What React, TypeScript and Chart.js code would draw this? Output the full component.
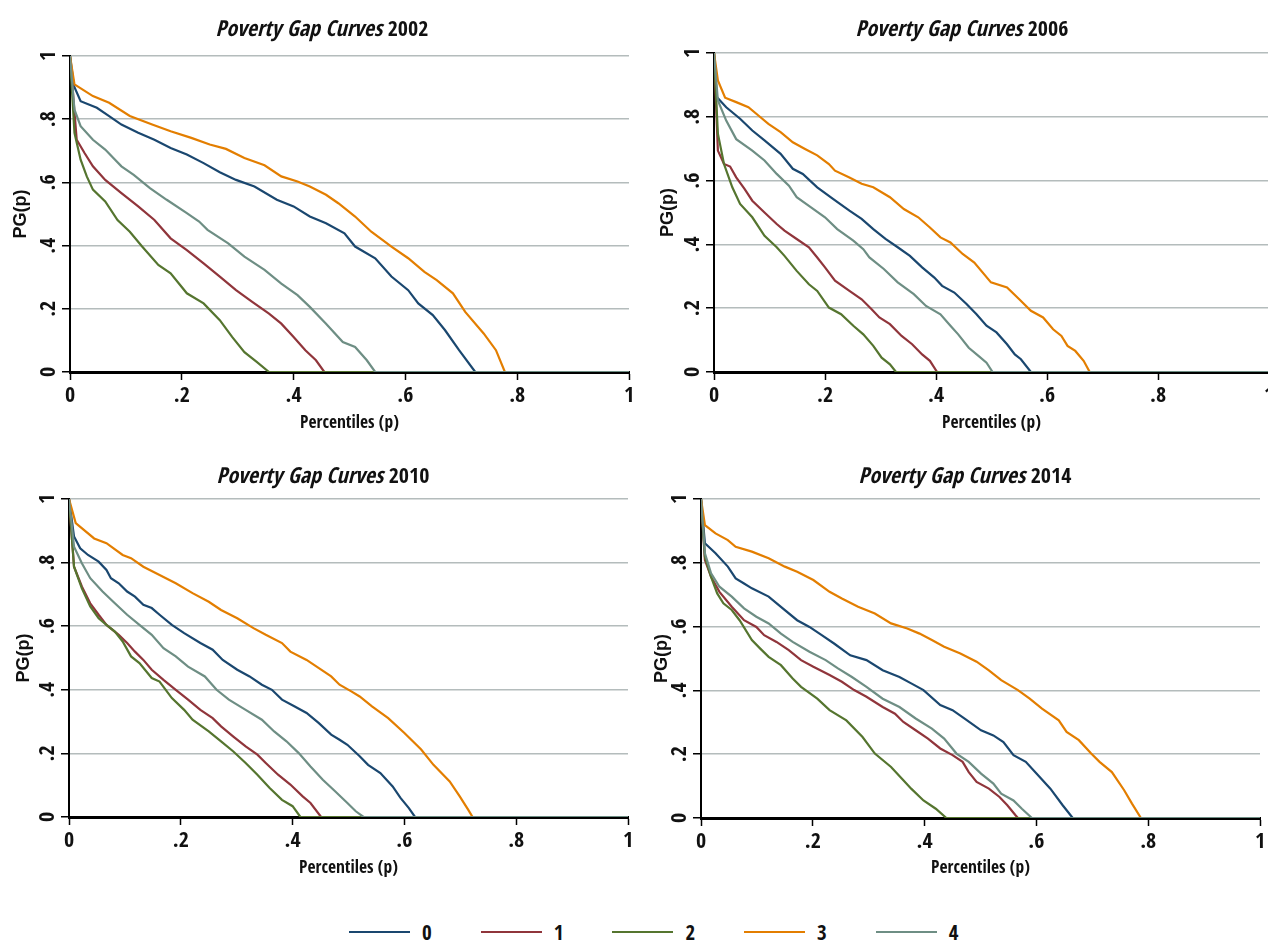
import React, { useEffect, useRef } from 'react';
import { Chart, registerables } from 'chart.js';

Chart.register(...registerables);

// ---------- data ----------
const GROUPS = ['0', '1', '2', '3', '4'];
const COLORS = ['#1a476f', '#90353b', '#55752f', '#e37e00', '#6e8e84'];
const X_TICKS = ['0', '.2', '.4', '.6', '.8', '1'];
const Y_TICKS = ['0', '.2', '.4', '.6', '.8', '1'];
const TITLE_TEXT = 'Poverty Gap Curves';
const X_TITLE = 'Percentiles (p)';
const Y_TITLE = 'PG(p)';

// 2002 : percentile p and PG(p) for groups 0..4
const P_2002 = [
  [0, .007, .019, .048, .07, .092, .122, .151, .18, .209, .239, .268, .297, .33, .37, .4, .429, .458, .491, .51, .546, .575, .605, .623, .649, .671, .696, .725, 1],
  [0, .012, .026, .041, .063, .092, .122, .151, .18, .209, .239, .268, .297, .326, .356, .378, .4, .421, .44, .455, 1],
  [0, .008, .019, .03, .041, .063, .085, .107, .129, .158, .18, .209, .239, .268, .29, .312, .334, .356, 1],
  [0, .008, .041, .07, .107, .147, .18, .217, .25, .279, .312, .348, .378, .407, .429, .458, .48, .51, .539, .575, .605, .634, .656, .685, .707, .74, .762, .778, 1],
  [0, .008, .019, .041, .063, .092, .114, .143, .173, .209, .231, .246, .283, .312, .348, .378, .407, .429, .458, .488, .51, .531, .546, 1],
];
const PG_2002 = [
  [1, .905, .857, .836, .81, .783, .757, .735, .709, .688, .661, .632, .608, .587, .545, .524, .492, .471, .439, .397, .36, .302, .259, .217, .18, .132, .069, 0, 0],
  [1, .735, .693, .651, .608, .566, .524, .481, .423, .386, .344, .302, .259, .222, .185, .153, .111, .069, .037, 0, 0],
  [1, .757, .672, .619, .577, .54, .481, .444, .397, .339, .312, .249, .217, .164, .111, .063, .032, 0, 0],
  [1, .91, .873, .852, .81, .783, .762, .741, .72, .706, .677, .654, .619, .603, .587, .561, .534, .492, .444, .397, .36, .317, .291, .249, .19, .122, .069, 0, 0],
  [1, .83, .778, .735, .704, .651, .624, .582, .545, .503, .476, .45, .407, .365, .323, .28, .243, .206, .153, .095, .079, .037, 0, 0],
];

// 2006
const P_2006 = [
  [0, .005, .022, .047, .069, .091, .12, .142, .16, .186, .215, .244, .266, .287, .309, .331, .353, .375, .397, .411, .433, .455, .473, .491, .509, .528, .542, .553, .571, 1],
  [0, .007, .018, .029, .04, .055, .069, .091, .113, .127, .149, .171, .186, .2, .218, .244, .266, .284, .298, .317, .338, .357, .375, .389, .402, 1],
  [0, .007, .018, .033, .047, .069, .091, .113, .127, .149, .171, .186, .207, .229, .251, .269, .287, .302, .317, .328, 1],
  [0, .007, .02, .04, .062, .08, .098, .12, .142, .164, .186, .207, .218, .244, .266, .287, .317, .342, .368, .389, .408, .426, .448, .469, .499, .528, .55, .571, .593, .611, .626, .637, .651, .666, .677, 1],
  [0, .007, .022, .04, .069, .091, .113, .135, .149, .171, .2, .222, .251, .269, .28, .306, .331, .36, .382, .408, .426, .44, .459, .477, .491, .502, 1],
];
const PG_2006 = [
  [1, .862, .83, .794, .757, .726, .684, .637, .621, .579, .542, .506, .48, .448, .417, .391, .364, .328, .296, .27, .249, .213, .181, .145, .124, .087, .055, .04, 0, 0],
  [1, .694, .652, .644, .61, .574, .537, .5, .464, .443, .417, .391, .359, .328, .286, .254, .228, .197, .171, .15, .113, .087, .055, .035, 0, 0],
  [1, .747, .652, .579, .527, .485, .427, .391, .364, .317, .275, .254, .202, .181, .145, .118, .082, .045, .024, 0, 0],
  [1, .914, .86, .846, .83, .804, .778, .752, .72, .699, .679, .652, .631, .61, .59, .579, .548, .511, .485, .453, .422, .406, .37, .343, .281, .265, .228, .192, .171, .134, .113, .082, .066, .035, 0, 0],
  [1, .851, .788, .73, .694, .663, .621, .584, .548, .521, .485, .448, .412, .385, .359, .323, .281, .244, .207, .181, .145, .118, .076, .05, .029, 0, 0],
];

// 2010
const P_2010 = [
  [0, .009, .02, .034, .053, .067, .075, .089, .104, .118, .133, .148, .162, .184, .206, .235, .257, .275, .301, .323, .345, .363, .381, .403, .425, .447, .469, .484, .498, .52, .535, .557, .579, .593, .608, .619, 1],
  [0, .009, .023, .038, .053, .067, .089, .104, .118, .133, .148, .169, .191, .213, .235, .257, .272, .294, .316, .337, .352, .374, .396, .418, .432, .451, 1],
  [0, .009, .023, .038, .053, .067, .082, .096, .111, .126, .148, .162, .184, .206, .221, .25, .272, .294, .316, .337, .359, .381, .4, .414, 1],
  [0, .012, .045, .067, .096, .111, .133, .162, .191, .221, .25, .272, .301, .33, .352, .381, .396, .425, .447, .469, .484, .505, .52, .542, .571, .6, .63, .652, .681, .699, .714, .722, 1],
  [0, .009, .023, .038, .06, .082, .104, .126, .148, .169, .191, .213, .243, .264, .286, .316, .345, .367, .389, .411, .432, .454, .476, .498, .513, .527, 1],
];
const PG_2010 = [
  [1, .882, .845, .824, .803, .777, .751, .735, .709, .693, .667, .657, .636, .604, .578, .547, .526, .494, .463, .442, .416, .4, .369, .348, .327, .295, .259, .243, .227, .191, .164, .138, .096, .06, .028, 0, 0],
  [1, .787, .725, .672, .636, .604, .573, .547, .52, .494, .463, .431, .4, .369, .337, .311, .285, .253, .222, .196, .17, .133, .102, .065, .044, 0, 0],
  [1, .787, .719, .662, .625, .604, .583, .552, .505, .484, .437, .426, .374, .337, .306, .269, .238, .206, .17, .133, .091, .054, .034, 0, 0],
  [1, .924, .876, .861, .824, .814, .787, .761, .735, .704, .677, .651, .625, .594, .573, .547, .52, .494, .468, .442, .416, .395, .379, .348, .311, .264, .212, .164, .112, .065, .023, 0, 0],
  [1, .85, .798, .751, .709, .672, .636, .604, .573, .531, .505, .473, .442, .4, .369, .337, .306, .269, .238, .201, .159, .117, .081, .044, .018, 0, 0],
];

// 2014
const P_2014 = [
  [0, .007, .026, .048, .062, .077, .091, .121, .143, .172, .194, .216, .238, .267, .296, .325, .355, .376, .398, .428, .45, .471, .501, .523, .541, .559, .581, .603, .625, .647, .665, 1],
  [0, .007, .018, .033, .055, .077, .099, .113, .135, .157, .179, .201, .23, .252, .274, .296, .325, .347, .362, .384, .406, .428, .45, .468, .479, .493, .515, .534, .548, .563, .567, 1],
  [0, .007, .018, .029, .04, .055, .069, .091, .106, .121, .143, .164, .179, .208, .23, .26, .289, .311, .34, .362, .376, .398, .42, .439, 1],
  [0, .007, .026, .048, .062, .091, .121, .15, .172, .201, .23, .252, .281, .311, .34, .369, .391, .413, .435, .464, .493, .515, .537, .567, .588, .61, .64, .654, .676, .698, .713, .735, .757, .771, .787, 1],
  [0, .007, .018, .033, .055, .077, .099, .121, .143, .164, .194, .223, .245, .27, .296, .325, .355, .384, .413, .435, .457, .479, .501, .523, .537, .559, .574, .592, 1],
];
const PG_2014 = [
  [1, .861, .83, .788, .751, .735, .72, .694, .662, .62, .599, .573, .547, .51, .495, .463, .442, .422, .401, .354, .338, .312, .275, .259, .238, .197, .176, .134, .092, .04, 0, 0],
  [1, .809, .756, .709, .662, .62, .599, .573, .552, .526, .495, .474, .448, .427, .401, .38, .348, .327, .301, .275, .249, .218, .197, .176, .144, .113, .092, .066, .04, .008, 0, 0],
  [1, .819, .756, .704, .673, .652, .62, .558, .531, .505, .479, .437, .411, .374, .338, .306, .254, .202, .16, .118, .092, .055, .029, 0, 0],
  [1, .918, .892, .871, .85, .835, .814, .788, .772, .746, .709, .688, .662, .641, .61, .594, .578, .558, .537, .516, .49, .463, .432, .401, .374, .343, .306, .27, .244, .202, .176, .144, .087, .045, 0, 0],
  [1, .83, .767, .725, .694, .657, .631, .61, .578, .552, .521, .495, .469, .442, .411, .374, .348, .312, .28, .249, .202, .176, .139, .108, .076, .055, .029, 0, 0],
];

// ---------- styling ----------
const FAM = '"Open Sans Condensed", "Roboto Condensed", "DejaVu Sans Condensed", sans-serif';
const FAM_WIDE = '"Liberation Sans", Arial, sans-serif';
const GRID_COLOR = '#b4bcbc';

type Spec = {
  year: string; yearBold: boolean; P: number[][]; PG: number[][];
  yTitleX: number; L: number; R: number; T: number; B: number;
  titleX: number; titleY: number; xTitleY: number;
};

const PANELS: Spec[] = [
  { year: '2002', yearBold: true, P: P_2002, PG: PG_2002, yTitleX: 21.5, L: 70, R: 629, T: 56, B: 372, titleX: 322, titleY: 30, xTitleY: 423 },
  { year: '2006', yearBold: false, P: P_2006, PG: PG_2006, yTitleX: 667.6, L: 714, R: 1269, T: 53, B: 372, titleX: 962, titleY: 30, xTitleY: 423 },
  { year: '2010', yearBold: true, P: P_2010, PG: PG_2010, yTitleX: 24, L: 69, R: 628, T: 499, B: 817, titleX: 323, titleY: 477, xTitleY: 868 },
  { year: '2014', yearBold: true, P: P_2014, PG: PG_2014, yTitleX: 661.6, L: 701, R: 1260, T: 499, B: 818, titleX: 965, titleY: 477, xTitleY: 868 },
];

function Panel({ spec }: { spec: Spec }) {
  const ref = useRef<HTMLCanvasElement | null>(null);
  const canvasLeft = Math.floor(spec.yTitleX - 22);
  const canvasTop = spec.T - 50;
  const canvasRight = spec.R + 12;
  const canvasBottom = spec.xTitleY + 20;
  const w = canvasRight - canvasLeft;
  const h = canvasBottom - canvasTop;

  useEffect(() => {
    const titlePlugin = {
      id: 'mixedTitle',
      afterDraw(chart: any) {
        const ctx = chart.ctx as CanvasRenderingContext2D;
        ctx.save();
        const f1 = `italic bold 22px ${FAM}`;
        const f2 = `${spec.yearBold ? 'bold ' : ''}22px ${FAM}`;
        const a = TITLE_TEXT + ' ';
        ctx.font = f1;
        const wa = ctx.measureText(a).width;
        ctx.font = f2;
        const wb = ctx.measureText(spec.year).width;
        const x0 = spec.titleX - canvasLeft - (wa + wb) / 2;
        const y = spec.titleY - canvasTop;
        ctx.fillStyle = '#111';
        ctx.textBaseline = 'middle';
        ctx.textAlign = 'left';
        ctx.font = f1;
        ctx.fillText(a, x0, y);
        ctx.font = f2;
        ctx.fillText(spec.year, x0 + wa, y);
        ctx.restore();
      },
    };

    const datasets = GROUPS.map((g, i) => ({
      label: g,
      data: spec.P[i].map((p, j) => ({ x: p, y: spec.PG[i][j] })),
      borderColor: COLORS[i],
      backgroundColor: COLORS[i],
      borderWidth: 2.2,
      pointRadius: 0,
      tension: 0,
      fill: false,
      order: GROUPS.length - i,
    }));

    const chart = new Chart(ref.current as HTMLCanvasElement, {
      type: 'line',
      data: { datasets },
      options: {
        animation: false,
        responsive: false,
        maintainAspectRatio: false,
        devicePixelRatio: 1,
        events: [],
        layout: { padding: { left: 0, top: spec.T - canvasTop, right: canvasRight - spec.R, bottom: 0 } },
        plugins: {
          legend: { display: false },
          title: { display: false },
          tooltip: { enabled: false },
        },
        scales: {
          x: {
            type: 'linear',
            min: 0,
            max: 1,
            ticks: {
              stepSize: 0.2,
              autoSkip: false,
              maxRotation: 0,
              callback: (_v: any, i: number) => X_TICKS[i],
              font: { family: FAM, size: 22, weight: 'bold' },
              color: '#111',
              padding: 3,
            },
            grid: { drawOnChartArea: false, drawTicks: true, tickLength: 8, tickColor: '#000', tickWidth: 1.5 },
            border: { display: true, color: '#000', width: 3 },
            title: {
              display: true,
              text: X_TITLE,
              font: { family: FAM, size: 17.5, weight: 'bold' },
              color: '#111',
              padding: { top: 0, bottom: 9.5 },
            },
            afterFit: (s: any) => { s.height = h - (spec.B - canvasTop); },
          },
          y: {
            type: 'linear',
            min: 0,
            max: 1,
            ticks: {
              stepSize: 0.2,
              minRotation: 90,
              maxRotation: 90,
              crossAlign: 'center',
              callback: (_v: any, i: number) => Y_TICKS[i],
              font: { family: FAM, size: 22, weight: 'bold' },
              color: '#111',
              padding: 5,
            },
            grid: {
              color: (c: any) => (c.tick && c.tick.value === 0 ? 'rgba(0,0,0,0)' : GRID_COLOR),
              lineWidth: 1.5,
              drawTicks: true,
              tickLength: 8,
              tickColor: '#000',
              tickWidth: 1.5,
            },
            border: { display: true, color: '#000', width: 2 },
            title: {
              display: true,
              text: Y_TITLE,
              font: { family: FAM_WIDE, size: 18, weight: 'bold' },
              color: '#111',
              padding: { top: (spec.yTitleX - canvasLeft) - 10.8, bottom: 0 },
            },
            afterFit: (s: any) => { s.width = spec.L - canvasLeft; },
          },
        },
      } as any,
      plugins: [titlePlugin],
    });
    return () => chart.destroy();
  }, []);

  return (
    <canvas
      ref={ref}
      width={w}
      height={h}
      style={{ position: 'absolute', left: canvasLeft, top: canvasTop, width: w, height: h }}
    />
  );
}

function Legend() {
  return (
    <>
      {GROUPS.map((g, i) => (
        <div
          key={g}
          style={{
            position: 'absolute',
            left: 349 + i * 131.7,
            top: 920,
            height: 24,
            display: 'flex',
            alignItems: 'center',
          }}
        >
          <div style={{ width: 61, height: 2.5, background: COLORS[i] }} />
          <span
            style={{
              marginLeft: 12,
              fontFamily: FAM,
              fontWeight: 'bold',
              fontSize: 21,
              color: '#111',
              lineHeight: '24px',
            }}
          >
            {g}
          </span>
        </div>
      ))}
    </>
  );
}

export default function App() {
  return (
    <div
      style={{
        position: 'fixed',
        left: 0,
        top: 0,
        width: 1268,
        height: 941,
        overflow: 'hidden',
        background: '#fff',
      }}
    >
      {PANELS.map((s) => (
        <Panel key={s.year} spec={s} />
      ))}
      <Legend />
    </div>
  );
}
